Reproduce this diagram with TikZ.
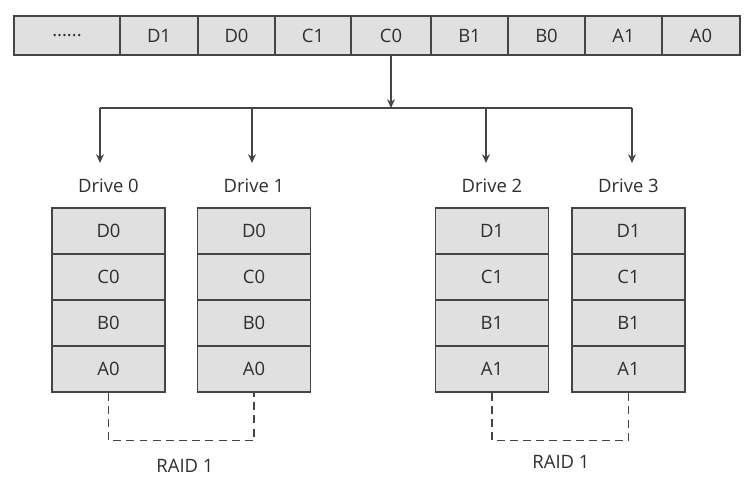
\documentclass[tikz,border=0pt]{standalone}
\usepackage{fontspec}
\setmainfont{Open Sans}
\usetikzlibrary{positioning,arrows.meta}
\definecolor{cellgray}{HTML}{E0E0E0}
\definecolor{linegray}{HTML}{454545}
\definecolor{textgray}{HTML}{2E2E2E}
\newcommand{\moreblocks}{......}
\tikzset{
	cell/.style={draw=linegray, fill=cellgray, line width=0.8pt, inner sep=0pt, text=textgray, font=\fontsize{10.5}{12}\selectfont},
	label/.style={text=textgray, inner sep=0pt, font=\fontsize{10.5}{12}\selectfont},
	feed/.style={draw=linegray, line width=0.7pt, -{Stealth[length=5pt,width=4.5pt]}},
	bus/.style={draw=linegray, line width=0.7pt},
	mirror/.style={draw=linegray, line width=0.7pt, dash pattern=on 4.5pt off 3pt}
}
\begin{document}
\begin{tikzpicture}[x=0.02cm, y=-0.02cm]

		\useasboundingbox (0,0) rectangle (752,498);

		\foreach \l/\r/\t/\n in {14/120/\moreblocks/dots,120/198/D1/d1,198/275/D0/d0,275/351/C1/c1,351/431/C0/c0,431/508/B1/b1,508/585/B0/b0,585/662/A1/a1,662/740/A0/a0}
		\node[cell, minimum width={(\r-\l)*0.02cm}, minimum height=0.78cm] (top\n) at ({(\l+\r)/2},35.5) {\t};

		\coordinate (busL) at (100,108);
		\coordinate (busC) at (391,108);
		\coordinate (busR) at (632,108);
		\draw[feed] (topc0.south) -- (busC);
		\draw[bus] (busL) -- (busR);

		\foreach \x/\k/\a/\p in {108.5/0/0/100,254/1/0/252,492/2/1/486,628.5/3/1/632}{
			\node[label] (drv\k) at (\x,186) {Drive \k};
			\coordinate (tap\k) at (\p,108);
			\coordinate (tip\k) at (\p,163);
			\draw[feed] (tap\k) -- (tip\k);
			\foreach \t [count=\i] in {D,C,B,A}
			\node[cell, minimum width=2.26cm, minimum height=0.92cm] (drv\k-\i) at (\x,{231+46*(\i-1)}) {\t\a};
		}

		\draw[mirror] (drv0-4.south) -- ++(0,48) -| (drv1-4.south);
		\draw[mirror] (drv2-4.south) -- ++(0,48) -| (drv3-4.south);

		\node[label] (raidA) at (185,466) {RAID 1};
		\node[label] (raidB) at (561,462) {RAID 1};

		\end{tikzpicture}
\end{document}
